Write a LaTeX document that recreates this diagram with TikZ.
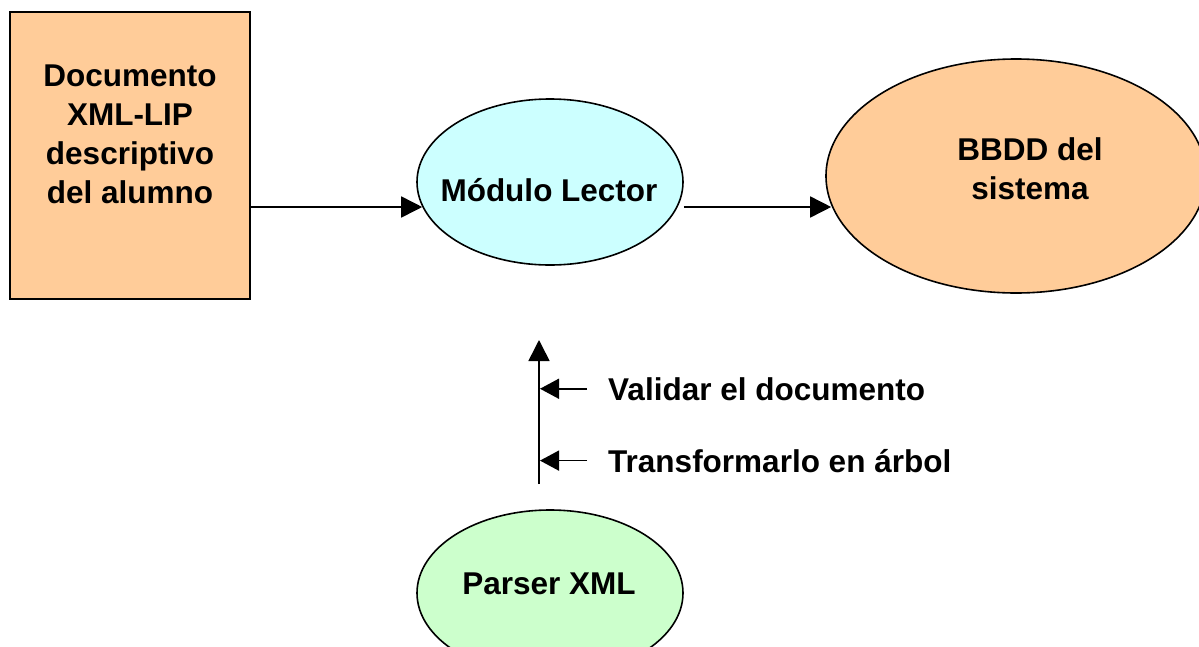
\documentclass[tikz,border=0pt]{standalone}
\usepackage{fontspec}
\setmainfont{Liberation Sans}
\usetikzlibrary{arrows.meta}
\usetikzlibrary{shapes}
\definecolor{peach}{HTML}{FFCC99}
\definecolor{paleCyan}{HTML}{CCFFFF}
\definecolor{paleGreen}{HTML}{CCFFCC}

\begin{document}
\begin{tikzpicture}[x = 1pt, y = -1pt, font = \fontsize{31.5}{39}\selectfont\bfseries]
	\tikzstyle{boxStyle} = [shape = rectangle, draw, line width = 1.6pt, fill = peach, minimum width = 240pt, minimum height = 287pt, inner sep = 0pt]
	\tikzstyle{ovalStyle} = [shape = ellipse, draw, line width = 1.6pt, inner sep = 0pt]
	\tikzstyle{textStyle} = [align = center, inner sep = 0pt]
	\tikzstyle{flowStyle} = [line width = 1.6pt, -{Triangle[length = 21pt, width = 21pt]}]
	\tikzstyle{noteStyle} = [line width = 1.6pt, -{Triangle[length = 19pt, width = 20pt]}]
	\useasboundingbox (0, 0) rectangle (1199, 646);
	\node[boxStyle] (doc) at (130, 155.5) {};
	\node[textStyle] (docText) at (130, 134) {Documento\\XML-LIP\\descriptivo\\del alumno};
	\node[ovalStyle, fill = paleCyan, minimum width = 266pt, minimum height = 166pt] (lector) at (550, 182) {};
	\node[textStyle, anchor = base] (lectorText) at (549, 201) {Módulo Lector};
	\node[ovalStyle, fill = peach, minimum width = 380pt, minimum height = 234pt] (bbdd) at (1016, 176) {};
	\node[textStyle] (bbddText) at (1030, 168.5) {BBDD del\\sistema};
	\node[ovalStyle, fill = paleGreen, minimum width = 266pt, minimum height = 166pt] (parser) at (550, 593) {};
	\node[textStyle, anchor = base] (parserText) at (549, 594) {Parser XML};
	\node[textStyle, anchor = base west] (validar) at (608, 400) {Validar el documento};
	\node[textStyle, anchor = base west] (transformar) at (608, 472) {Transformarlo en árbol};
	\coordinate (flowLevel) at (0, 207);
	\coordinate (upBottom) at (539, 484);
	\coordinate (upTop) at (539, 340);
	\draw[flowStyle] (doc.east |- flowLevel) -- (lector.191 |- flowLevel);
	\draw[flowStyle] (lector.east |- flowLevel) -- (bbdd.189 |- flowLevel);
	\draw[flowStyle] (upBottom) -- (upTop);
	\draw[noteStyle] ([xshift = -21pt]validar.west) -- ([xshift = 1pt]validar.west -| upTop);
	\draw[noteStyle] ([xshift = -21pt]transformar.west) -- ([xshift = 1pt]transformar.west -| upTop);
\end{tikzpicture}
\end{document}
